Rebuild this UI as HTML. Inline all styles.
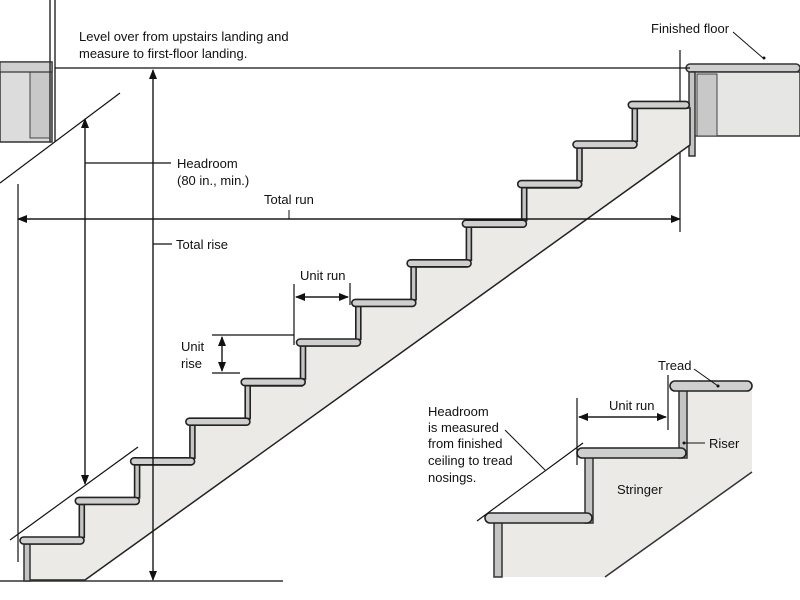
<!DOCTYPE html>
<html><head><meta charset="utf-8"><style>
html,body{margin:0;padding:0;background:#fff;}
svg{display:block;}
text{font-family:"Liberation Sans",sans-serif;font-size:13px;fill:#111;}
</style></head><body>
<svg width="800" height="600" viewBox="0 0 800 600" xmlns="http://www.w3.org/2000/svg">
<defs>
<marker id="ah" markerWidth="10" markerHeight="8" refX="9" refY="4" orient="auto" markerUnits="userSpaceOnUse">
<path d="M0,0 L10,4 L0,8 z" fill="#111"/></marker>
<g id="tread"><rect x="0" y="0" width="64" height="7" rx="3.5" fill="#cfcfcf" stroke="#222" stroke-width="1.6"/></g>
<g id="riser"><rect x="0" y="0" width="5" height="33" fill="#c4c4c4" stroke="#222" stroke-width="1.6"/></g>
</defs>
<rect width="800" height="600" fill="#fff"/>

<rect x="0" y="62" width="52" height="80" fill="#dcdcdc" stroke="#333" stroke-width="1.5"/>
<rect x="30" y="72" width="20" height="66" fill="#c8c8c8" stroke="#444" stroke-width="1"/>
<rect x="0" y="62" width="52" height="10" fill="#cfcfcf" stroke="#333" stroke-width="1.2"/>
<line x1="50" y1="0" x2="50" y2="142" stroke="#333" stroke-width="1.5"/>
<line x1="55" y1="0" x2="55" y2="142" stroke="#333" stroke-width="1.5"/>
<line x1="0" y1="183" x2="120" y2="93" stroke="#111" stroke-width="1.2"/>

<rect x="686" y="64" width="114" height="8" rx="4" fill="#cfcfcf" stroke="#333" stroke-width="1.5"/>
<rect x="692" y="72" width="108" height="64" fill="#e6e6e4" stroke="#333" stroke-width="1.5"/>
<rect x="697" y="74" width="20" height="62" fill="#c8c8c8" stroke="#444" stroke-width="1"/>
<rect x="689" y="72" width="6" height="84" fill="#c4c4c4" stroke="#333" stroke-width="1.5"/>
<line x1="680" y1="50" x2="680" y2="232" stroke="#111" stroke-width="1.2"/>
<line x1="55" y1="68" x2="690" y2="68" stroke="#111" stroke-width="1.2"/>
<line x1="733" y1="32" x2="763" y2="58" stroke="#111" stroke-width="1"/>
<circle cx="764" cy="58" r="1.5" fill="#111"/>
<text x="651" y="33">Finished floor</text>

<polygon points="25,580 25,544 80,544 80,504 136,504 136,465 191,465 191,425 246,425 246,386 302,386 302,346 357,346 357,306 412,306 412,267 467,267 467,227 523,227 523,188 578,188 578,148 633,148 633,108 690,108 690,145 85,580" fill="#ebeae6" stroke="#222" stroke-width="1.5"/>
<line x1="0" y1="581" x2="283" y2="581" stroke="#333" stroke-width="1.5"/>
<rect x="24" y="544" width="6" height="37" fill="#c4c4c4" stroke="#333" stroke-width="1.5"/>
<use href="#riser" x="79.3" y="504.4"/>
<use href="#riser" x="134.6" y="464.8"/>
<use href="#riser" x="189.9" y="425.2"/>
<use href="#riser" x="245.2" y="385.6"/>
<use href="#riser" x="300.5" y="346"/>
<use href="#riser" x="355.8" y="306.4"/>
<use href="#riser" x="411.1" y="266.8"/>
<use href="#riser" x="466.4" y="227.2"/>
<use href="#riser" x="521.7" y="187.6"/>
<use href="#riser" x="577" y="148"/>
<use href="#riser" x="632.3" y="108.4"/>
<use href="#tread" x="20" y="537"/>
<use href="#tread" x="75.3" y="497.4"/>
<use href="#tread" x="130.6" y="457.8"/>
<use href="#tread" x="185.9" y="418.2"/>
<use href="#tread" x="241.2" y="378.6"/>
<use href="#tread" x="296.5" y="339"/>
<use href="#tread" x="351.8" y="299.4"/>
<use href="#tread" x="407.1" y="259.8"/>
<use href="#tread" x="462.4" y="220.2"/>
<use href="#tread" x="517.7" y="180.6"/>
<use href="#tread" x="573" y="141"/>
<rect x="628.3" y="101.4" width="61" height="7" rx="3.5" fill="#cfcfcf" stroke="#222" stroke-width="1.6"/>

<line x1="153" y1="580" x2="153" y2="70" stroke="#111" stroke-width="1.2" marker-end="url(#ah)"/>
<line x1="153" y1="70" x2="153" y2="580" stroke="#111" stroke-width="1.2" marker-end="url(#ah)"/>
<line x1="85" y1="484" x2="85" y2="119" stroke="#111" stroke-width="1.2" marker-end="url(#ah)"/>
<line x1="85" y1="119" x2="85" y2="484" stroke="#111" stroke-width="1.2" marker-end="url(#ah)"/>
<line x1="10" y1="540" x2="138" y2="447" stroke="#111" stroke-width="1.2"/>
<line x1="18" y1="184" x2="18" y2="562" stroke="#111" stroke-width="1.2"/>
<line x1="18" y1="219" x2="680" y2="219" stroke="#111" stroke-width="1.2" marker-end="url(#ah)"/>
<line x1="680" y1="219" x2="18" y2="219" stroke="#111" stroke-width="1.2" marker-end="url(#ah)"/>
<line x1="289" y1="210" x2="289" y2="219" stroke="#111" stroke-width="1"/>
<line x1="85" y1="163" x2="171" y2="163" stroke="#111" stroke-width="1.2"/>
<line x1="153" y1="244" x2="172" y2="244" stroke="#111" stroke-width="1.2"/>
<text x="79" y="41">Level over from upstairs landing and</text>
<text x="79" y="58">measure to first-floor landing.</text>
<text x="177" y="168">Headroom</text>
<text x="177" y="185">(80 in., min.)</text>
<text x="264" y="204">Total run</text>
<text x="176" y="249">Total rise</text>

<line x1="294" y1="284" x2="294" y2="345" stroke="#111" stroke-width="1.2"/>
<line x1="350" y1="283" x2="350" y2="305" stroke="#111" stroke-width="1.2"/>
<line x1="296" y1="297" x2="348" y2="297" stroke="#111" stroke-width="1.2" marker-end="url(#ah)"/>
<line x1="348" y1="297" x2="296" y2="297" stroke="#111" stroke-width="1.2" marker-end="url(#ah)"/>
<text x="300" y="280">Unit run</text>
<line x1="212" y1="335" x2="294" y2="335" stroke="#111" stroke-width="1.2"/>
<line x1="212" y1="373" x2="240" y2="373" stroke="#111" stroke-width="1.2"/>
<line x1="222" y1="337" x2="222" y2="371" stroke="#111" stroke-width="1.2" marker-end="url(#ah)"/>
<line x1="222" y1="371" x2="222" y2="337" stroke="#111" stroke-width="1.2" marker-end="url(#ah)"/>
<text x="181" y="351">Unit</text>
<text x="181" y="368">rise</text>

<polygon points="497,522 588,522 588,458 687,458 687,391 752,391 752,472 605,577 497,577" fill="#ebeae6" stroke="none"/>
<line x1="752" y1="472" x2="605" y2="577" stroke="#333" stroke-width="1.5"/>
<rect x="494" y="522" width="8" height="55" fill="#c4c4c4" stroke="#333" stroke-width="1.5"/>
<rect x="585" y="457" width="8" height="66" fill="#c4c4c4" stroke="#333" stroke-width="1.5"/>
<rect x="679" y="390" width="8" height="68" fill="#c4c4c4" stroke="#333" stroke-width="1.5"/>
<rect x="485" y="513" width="107" height="10" rx="5" fill="#cfcfcf" stroke="#222" stroke-width="1.6"/>
<rect x="577" y="448" width="109" height="10" rx="5" fill="#cfcfcf" stroke="#222" stroke-width="1.6"/>
<rect x="670" y="381" width="82" height="10" rx="5" fill="#cfcfcf" stroke="#222" stroke-width="1.6"/>
<line x1="477" y1="521" x2="583" y2="443" stroke="#111" stroke-width="1.2"/>
<line x1="505" y1="430" x2="545" y2="470" stroke="#111" stroke-width="1"/>
<line x1="577" y1="398" x2="577" y2="465" stroke="#111" stroke-width="1.2"/>
<line x1="668" y1="375" x2="668" y2="430" stroke="#111" stroke-width="1.2"/>
<line x1="579" y1="417" x2="666" y2="417" stroke="#111" stroke-width="1.2" marker-end="url(#ah)"/>
<line x1="666" y1="417" x2="579" y2="417" stroke="#111" stroke-width="1.2" marker-end="url(#ah)"/>
<line x1="694" y1="369" x2="718" y2="386" stroke="#111" stroke-width="1"/>
<circle cx="718" cy="386" r="1.5" fill="#111"/>
<line x1="684" y1="443" x2="705" y2="443" stroke="#111" stroke-width="1"/>
<circle cx="684" cy="443" r="1.5" fill="#111"/>
<text x="609" y="410">Unit run</text>
<text x="658" y="370">Tread</text>
<text x="709" y="448">Riser</text>
<text x="617" y="494">Stringer</text>
<text x="428" y="416">Headroom</text>
<text x="428" y="432">is measured</text>
<text x="428" y="448">from finished</text>
<text x="428" y="465">ceiling to tread</text>
<text x="428" y="482">nosings.</text>
</svg>
</body></html>
